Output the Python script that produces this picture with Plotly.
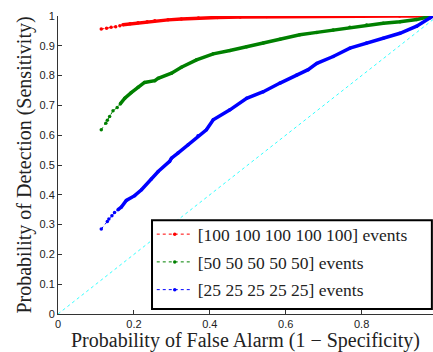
import plotly.graph_objects as go

# Data (FPR, TPR)
red_x = [0.114, 0.128, 0.14, 0.152, 0.163, 0.171, 0.19, 0.211, 0.235, 0.255, 0.29, 0.325, 0.37, 0.42, 0.48, 0.55, 0.62, 0.7, 0.8, 0.9, 0.985]
red_y = [0.956, 0.959, 0.962, 0.964, 0.967, 0.971, 0.974, 0.977, 0.981, 0.984, 0.987, 0.990, 0.993, 0.995, 0.997, 0.998, 0.999, 0.999, 1.0, 1.0, 1.0]

green_x = [0.114, 0.126, 0.13, 0.136, 0.145, 0.156, 0.164, 0.176, 0.193, 0.211, 0.228, 0.255, 0.264, 0.299, 0.325, 0.365, 0.409, 0.453, 0.497, 0.541, 0.585, 0.637, 0.682, 0.725, 0.769, 0.813, 0.857, 0.901, 0.945, 0.985]
green_y = [0.618, 0.640, 0.650, 0.663, 0.682, 0.693, 0.705, 0.724, 0.743, 0.761, 0.777, 0.783, 0.791, 0.808, 0.828, 0.853, 0.873, 0.884, 0.897, 0.909, 0.922, 0.937, 0.945, 0.953, 0.962, 0.970, 0.976, 0.981, 0.988, 1.0]

blue_x = [0.114, 0.13, 0.134, 0.142, 0.149, 0.158, 0.167, 0.18, 0.202, 0.22, 0.246, 0.264, 0.294, 0.299, 0.316, 0.343, 0.369, 0.391, 0.409, 0.453, 0.497, 0.541, 0.585, 0.629, 0.659, 0.682, 0.725, 0.769, 0.813, 0.857, 0.901, 0.945, 0.98, 0.988]
blue_y = [0.285, 0.31, 0.319, 0.33, 0.341, 0.35, 0.359, 0.381, 0.397, 0.417, 0.453, 0.478, 0.512, 0.523, 0.54, 0.568, 0.598, 0.618, 0.652, 0.685, 0.724, 0.746, 0.775, 0.802, 0.82, 0.841, 0.864, 0.892, 0.909, 0.925, 0.942, 0.966, 0.993, 1.0]

chance_x = [0, 1]
chance_y = [0, 1]

series = [
    ("[100 100 100 100 100] events", red_x, red_y, "#ff0000", 5),
    ("[50 50 50 50 50] events", green_x, green_y, "#008000", 6),
    ("[25 25 25 25 25] events", blue_x, blue_y, "#0000ff", 5),
]

x_ticks = [0, 0.2, 0.4, 0.6, 0.8]
y_ticks = [0, 0.1, 0.2, 0.3, 0.4, 0.5, 0.6, 0.7, 0.8, 0.9, 1]

fig = go.Figure()

fig.add_trace(go.Scatter(x=chance_x, y=chance_y, mode="lines",
                         line=dict(color="#33ffff", width=1, dash="dot"),
                         showlegend=False, hoverinfo="skip"))

for i, (name, xs, ys, col, dense) in enumerate(series):
    # dense portion drawn as a thick band
    fig.add_trace(go.Scatter(x=xs[dense:], y=ys[dense:], mode="lines",
                             line=dict(color=col, width=3.5),
                             showlegend=False, hoverinfo="skip"))
    fig.add_trace(go.Scatter(x=xs, y=ys, mode="lines+markers", name=name,
                             line=dict(color=col, width=1, dash="dot"),
                             marker=dict(color=col, size=3.5),
                             legendgroup=f"g{i}"))

serif = "Liberation Serif, DejaVu Serif, serif"
sans = "Liberation Sans, Arial, sans-serif"

# legend frame (white box with black border) drawn as a shape; legend sits on top
fig.add_shape(type="rect", xref="paper", yref="paper",
              x0=0.2507, x1=0.997, y0=0.017, y1=0.315,
              line=dict(color="black", width=2), fillcolor="white", layer="above")

fig.update_layout(
    width=433, height=352,
    margin=dict(l=58, r=0, t=16, b=38),
    paper_bgcolor="white", plot_bgcolor="white",
    showlegend=True,
    legend=dict(x=0.25, y=0.328, xanchor="left", yanchor="top",
                borderwidth=0, bgcolor="rgba(0,0,0,0)",
                font=dict(family=serif, size=17.5, color="#222"),
                traceorder="grouped", tracegroupgap=2,
                itemwidth=36),
    xaxis=dict(range=[0, 0.988], tickvals=x_ticks, ticktext=[str(v) for v in x_ticks],
               showgrid=False, zeroline=False, showline=True, linecolor="#333", linewidth=1,
               ticks="inside", ticklen=4, tickcolor="#333",
               tickfont=dict(family=sans, size=11, color="#222"),
               title=dict(text="Probability of False Alarm (1 − Specificity)",
                          font=dict(family=serif, size=20, color="#222"), standoff=2)),
    yaxis=dict(range=[0, 1], tickvals=y_ticks, ticktext=[str(v) for v in y_ticks],
               showgrid=False, zeroline=False, showline=True, linecolor="#333", linewidth=1,
               ticks="inside", ticklen=4, tickcolor="#333",
               tickfont=dict(family=sans, size=11, color="#222"),
               title=dict(text="Probability of Detection (Sensitivity)",
                          font=dict(family=serif, size=20, color="#222"), standoff=2)),
)

fig.write_html("out.html")
